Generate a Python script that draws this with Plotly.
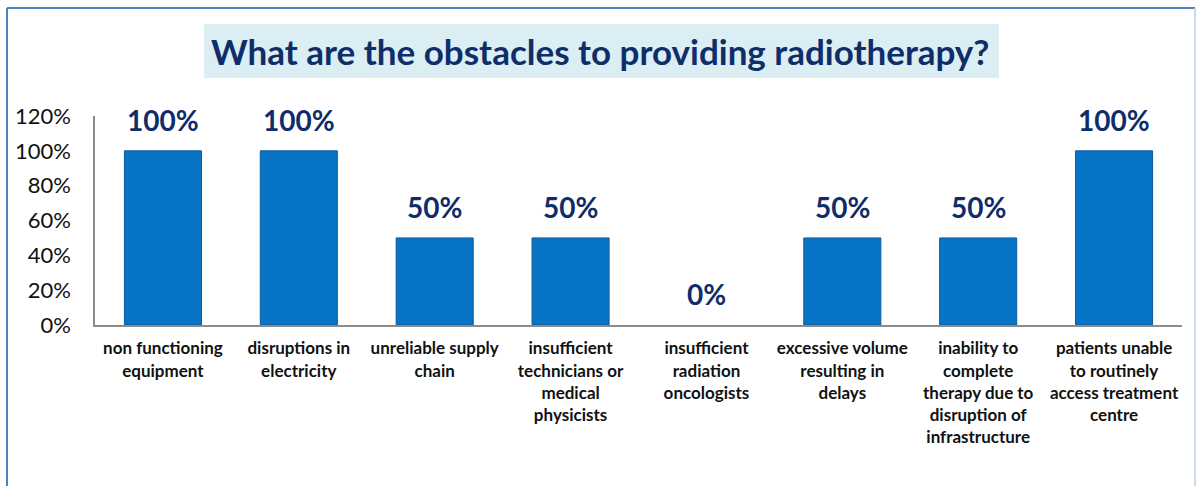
import plotly.graph_objects as go

categories = [
    "non functioning<br>equipment",
    "disruptions in<br>electricity",
    "unreliable supply<br>chain",
    "insufficient<br>technicians or<br>medical<br>physicists",
    "insufficient<br>radiation<br>oncologists",
    "excessive volume<br>resulting in<br>delays",
    "inability to<br>complete<br>therapy due to<br>disruption of<br>infrastructure",
    "patients unable<br>to routinely<br>access treatment<br>centre",
]
values = [1.0, 1.0, 0.5, 0.5, 0.0, 0.5, 0.5, 1.0]
value_labels = ["100%", "100%", "50%", "50%", "0%", "50%", "50%", "100%"]
y_ticks = [0, 0.2, 0.4, 0.6, 0.8, 1.0, 1.2]
y_tick_labels = ["0%", "20%", "40%", "60%", "80%", "100%", "120%"]
title_text = "What are the obstacles to providing radiotherapy?"

FONT = "Lato, 'Open Sans', sans-serif"
NAVY = "#0f2d69"

fig = go.Figure()
fig.add_trace(go.Bar(
    x=categories, y=values,
    marker=dict(color="#0874c6",
                line=dict(color="#0a5c9e", width=[1 if v > 0 else 0 for v in values])),
    width=0.567,
    hoverinfo="skip",
))

for c, v, t in zip(categories, values, value_labels):
    fig.add_annotation(x=c, y=v, text=f"<b>{t}</b>", showarrow=False,
                       yanchor="bottom", yshift=12,
                       font=dict(family=FONT, size=28, color=NAVY))

W, H = 1196, 486
L, R, T, B = 95, 14, 116, 161
pw = W - L - R
ph = H - T - B

def px(x):
    return (x - L) / pw

def py(y):
    return (H - B - y) / ph

# title box
fig.add_shape(type="rect", xref="paper", yref="paper",
              x0=px(204), x1=px(999), y0=py(78), y1=py(24),
              fillcolor="#dbeef4", line=dict(width=0), layer="below")
fig.add_annotation(xref="paper", yref="paper", x=px(600), y=py(51),
                   text=f"<b>{title_text}</b>", showarrow=False,
                   xanchor="center", yanchor="middle",
                   font=dict(family=FONT, size=35, color=NAVY))

# outer chart border
fig.add_shape(type="line", xref="paper", yref="paper",
              x0=px(7), x1=px(1195), y0=py(8), y1=py(8),
              line=dict(color="#4f81bd", width=2))
fig.add_shape(type="line", xref="paper", yref="paper",
              x0=px(7), x1=px(7), y0=py(8), y1=py(490),
              line=dict(color="#4f81bd", width=2))
fig.add_shape(type="line", xref="paper", yref="paper",
              x0=px(1195), x1=px(1195), y0=py(8), y1=py(490),
              line=dict(color="#b8cce4", width=1.5))

fig.update_layout(
    width=W, height=H,
    margin=dict(l=L, r=R, t=T, b=B, autoexpand=False),
    paper_bgcolor="white", plot_bgcolor="white",
    showlegend=False,
    xaxis=dict(
        showline=True, linecolor="#8c8c8c", linewidth=2,
        showgrid=False, ticks="", zeroline=False,
        tickfont=dict(family=FONT, size=17, color="#111111"),
        tickangle=0,
        ticklabelstandoff=7,
        tickprefix="<b>", ticksuffix="</b>",
    ),
    yaxis=dict(
        range=[0, 1.2],
        tickvals=y_ticks, ticktext=y_tick_labels,
        showline=True, linecolor="#8c8c8c", linewidth=1.5,
        showgrid=False, zeroline=False, ticks="",
        ticklabelstandoff=18,
        tickfont=dict(family=FONT, size=22, color="#111111"),
    ),
)

fig.write_html("out.html", config={"displayModeBar": False},
               post_script="document.body.style.margin='0';document.body.style.overflow='hidden';")
